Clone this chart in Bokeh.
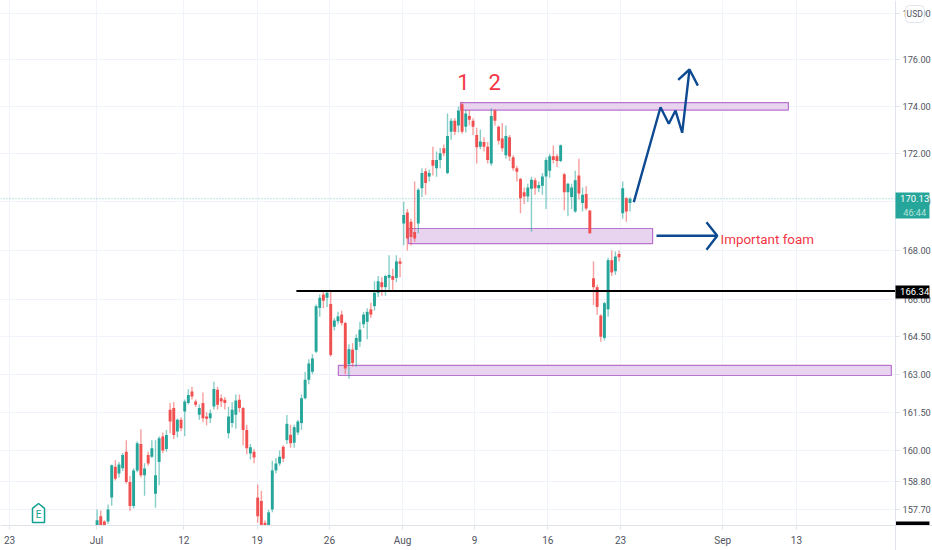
from bokeh.plotting import figure
from bokeh.embed import file_html
from bokeh.resources import INLINE
from bokeh.models import (Range1d, FixedTicker, PrintfTickFormatter, Label, BoxAnnotation)

# ---- candles ------------------------------------------------------------
first_bar = 24
opens = [157.05,157.45,157.25,157.25,158.17,159.36,159.1,159.3,159.95,158.77,157.84,159.22,160.25,159.03,159.82,159.75,158.32,159.55,160.54,160.05,
 161.59,161.66,160.74,161.2,161.53,161.86,162.32,161.92,161.4,161.86,161.33,161.26,161.72,162.38,162.05,161.99,160.67,161.07,161.4,161.99,
 161.66,160.8,159.88,159.95,158.17,158.04,157.2,157.05,157.71,159.22,159.49,160.14,160.4,160.61,160.3,160.7,161.07,162.05,162.78,163.1,
 163.9,165.66,166.2,166.07,165.82,164.9,165.12,165.39,165.05,163.4,163.98,163.97,164.3,165.0,165.1,165.6,165.73,166.27,166.7,166.5,
 166.88,166.95,166.88,167.55,169.11,169.56,169.18,168.76,169.11,170.57,171.27,171.06,171.75,171.4,171.75,172.24,171.2,172.93,173.4,173.2,
 174.1,173.14,173.6,173.4,172.8,172.3,172.5,172.3,171.6,173.83,173.14,172.65,171.95,172.7,171.86,171.4,170.95,170.4,170.22,170.55,
 170.9,170.57,170.67,171.06,171.3,171.9,171.9,171.7,171.15,170.4,170.2,169.6,171.1,169.95,170.33,169.64,166.86,166.5,165.35,164.45,
 165.6,167.6,167.15,167.85,169.53,170.15,169.95]
highs = [157.71,157.67,157.3,157.9,159.45,159.62,159.55,159.9,160.4,159.0,159.3,160.35,160.83,159.5,159.95,160.4,160.4,160.55,160.7,160.8,
 161.86,161.9,161.25,161.3,162.0,162.4,162.5,162.0,161.8,162.28,161.5,161.6,162.7,162.5,162.2,162.1,161.7,161.9,162.2,162.2,
 161.7,161.0,160.25,160.05,158.67,158.43,157.3,157.7,159.6,159.7,160.0,160.2,161.39,161.0,161.0,161.2,162.2,163.1,163.6,163.8,
 165.8,166.2,166.35,166.35,166.33,165.25,165.5,165.55,165.1,164.2,164.24,164.6,165.1,165.5,165.65,165.87,166.74,166.95,166.9,167.0,
 167.8,167.25,167.8,167.7,170.01,169.7,169.3,170.85,170.57,171.4,171.4,171.35,172.3,172.1,172.25,172.4,173.7,173.5,173.5,174.0,
 174.2,173.85,173.85,173.5,173.1,173.03,172.7,172.5,173.93,173.9,173.2,173.3,173.2,172.8,171.95,171.5,171.0,170.6,170.75,171.05,
 171.0,170.85,171.2,171.85,172.0,172.35,172.0,172.4,171.2,170.8,170.75,171.3,171.8,170.6,170.65,169.65,167.55,166.6,165.4,165.9,
 167.7,168.0,167.95,168.0,170.85,170.2,170.2]
lows = [156.9,156.8,156.9,157.15,157.85,158.83,158.95,159.2,158.7,157.65,157.75,159.15,158.95,158.24,159.4,159.7,157.78,158.65,159.9,159.95,
 160.67,160.45,160.5,160.75,160.55,161.8,162.0,161.7,161.2,161.1,160.98,161.07,161.6,161.6,161.7,161.6,160.47,160.9,160.85,161.5,
 160.2,159.85,159.65,159.5,157.2,156.7,156.7,156.8,157.6,159.1,159.4,159.55,160.25,160.1,160.1,160.6,160.8,162.0,162.6,163.0,
 163.85,165.3,165.65,165.7,163.7,164.75,165.0,164.95,163.0,162.82,163.3,163.3,164.1,164.85,164.4,165.25,165.55,166.1,166.15,166.15,
 166.3,166.3,166.7,166.9,168.21,168.0,168.2,168.35,168.7,170.2,170.3,170.85,171.1,171.05,171.4,171.9,171.15,172.6,172.8,172.9,
 172.85,172.9,173.2,172.8,171.6,172.2,172.1,171.6,171.5,173.2,172.4,172.1,171.8,171.7,171.3,170.85,169.53,169.9,170.0,168.77,
 170.3,170.4,170.3,169.7,171.0,171.6,171.45,171.65,169.65,169.4,169.7,169.55,170.1,169.6,169.65,168.68,165.78,165.38,164.3,164.35,
 165.3,166.95,167.0,167.55,169.3,169.18,169.6]
closes = [157.3,156.95,157.0,157.71,159.42,158.9,159.45,159.82,158.77,157.84,159.22,160.28,159.03,159.29,159.49,160.08,159.03,160.47,160.0,160.6,
 161.13,160.6,161.2,160.87,161.92,162.18,162.12,161.79,161.66,161.26,161.24,161.46,162.41,161.79,161.92,161.86,161.33,161.59,161.96,161.66,
 160.8,160.08,160.12,159.72,157.45,156.9,156.9,157.6,159.22,159.49,159.75,159.68,161.04,160.28,160.91,161.13,162.05,162.78,163.43,163.63,
 165.73,166.07,165.95,166.27,163.77,165.15,165.32,165.05,163.23,164.0,163.45,164.45,164.78,165.39,165.5,165.39,166.27,166.74,166.5,166.95,
 167.0,166.8,167.55,167.45,169.46,168.49,168.55,168.49,170.5,171.2,170.78,171.2,171.5,171.75,172.03,172.03,172.75,173.4,172.93,173.83,
 172.93,173.7,173.44,173.14,172.28,172.52,172.3,171.75,173.6,173.4,172.55,172.24,172.75,171.89,171.4,171.25,170.15,170.22,170.6,170.92,
 170.57,170.7,171.06,171.75,171.9,171.75,171.7,172.37,170.4,170.75,170.6,170.9,170.35,170.3,169.73,168.7,166.5,165.7,164.5,165.85,
 167.6,167.1,167.75,167.72,170.57,169.6,170.13]

# ---- axes ---------------------------------------------------------------
price_ticks = [157.7, 158.8, 160.0, 161.5, 163.0, 164.5, 166.0, 168.0, 170.0, 172.0, 174.0, 176.0, 178.0]
time_tick_bars = [0, 23.84, 47.75, 67.87, 87.67, 107.7, 127.4, 147.48, 167.4, 195.4, 215.6]
time_tick_labels = ["23", "Jul", "12", "19", "26", "Aug", "9", "16", "23", "Sep", "13"]
view_bars = (-2.466, 252.88)
view_prices = (156.14, 178.56)
scale_bar = 242.74       # where the price scale sits
scale_price = 157.1      # where the time scale sits

# ---- drawings -----------------------------------------------------------
last_price = 170.13
countdown = "46:44"
line_price = 166.34
line_start_bar = 78.6
zones_left = [123.56, 109.3, 90.1]
zones_right = [213.4, 176.2, 241.6]
zones_top = [174.17, 168.90, 163.35]
zones_bottom = [173.85, 168.28, 162.95]
path_bars = [171.04, 178.36, 180.63, 182.47, 184.3, 186.3]
path_prices = [169.99, 173.97, 173.27, 173.83, 172.89, 175.58]
head_bars = [183.2, 186.3, 188.6]
head_prices = [175.14, 175.58, 174.89]
arrow_bars = [177.26, 193.9]
arrow_prices = [168.6, 168.6]
arrow_head_bars = [190.96, 193.9, 190.96]
arrow_head_prices = [169.16, 168.6, 168.03]
flag_bars = [6.3, 9.6, 9.6, 7.95, 6.3]
flag_prices = [157.21, 157.21, 157.75, 157.94, 157.75]

TEAL, RED, BLUE, PINK = "#26a69a", "#f0504f", "#0e4a92", "#f23645"
FONT = "Roboto"
TXT = "#50535e"

p = figure(width=932, height=550, output_backend="svg", toolbar_location=None,
           y_axis_type="log", y_axis_location="right",
           x_range=Range1d(*view_bars), y_range=Range1d(*view_prices),
           min_border_left=0, min_border_top=0, min_border_right=0, min_border_bottom=0,
           background_fill_color="white", border_fill_color="white",
           styles={"position": "absolute", "left": "0px", "top": "0px"})
p.outline_line_color = None

p.yaxis.fixed_location = scale_bar
p.xaxis.fixed_location = scale_price
p.yaxis.ticker = FixedTicker(ticks=price_ticks)
p.yaxis.formatter = PrintfTickFormatter(format="%.2f")
p.xaxis.ticker = FixedTicker(ticks=time_tick_bars)
p.xaxis.major_label_overrides = dict(zip(time_tick_bars, time_tick_labels))
for ax in (p.xaxis, p.yaxis):
    ax.axis_line_color = "#e0e3eb"
    ax.major_tick_line_color = "#e0e3eb"
    ax.major_tick_out = 4
    ax.major_tick_in = 0
    ax.minor_tick_line_color = None
    ax.major_label_text_color = TXT
    ax.major_label_text_font = FONT
    ax.major_label_text_font_size = "9.2px"
    ax.major_label_standoff = 3
p.xaxis.major_label_text_font_size = "10px"
p.xaxis.major_label_standoff = 6
p.xgrid.ticker = FixedTicker(ticks=time_tick_bars)
p.ygrid.ticker = FixedTicker(ticks=price_ticks)
p.grid.grid_line_color = "#f0f3fa"
p.grid.grid_line_width = 1

# zones under the candles
for l, r, t, b in zip(zones_left, zones_right, zones_top, zones_bottom):
    p.quad(left=l, right=r, top=t, bottom=b, fill_color="#e8d4ef", line_color="#b872cf", line_width=1.2)

# last price line
p.line([view_bars[0], scale_bar], [last_price, last_price], line_color=TEAL, line_alpha=0.6,
       line_dash=[1, 2], line_width=1)

# candles
idx = list(range(first_bar, first_bar + len(opens)))
cols = [TEAL if c >= o else RED for o, c in zip(opens, closes)]
p.segment(idx, highs, idx, lows, line_color=cols, line_alpha=0.55, line_width=1.4)
p.vbar(x=idx, top=[max(o, c) for o, c in zip(opens, closes)],
       bottom=[min(o, c) for o, c in zip(opens, closes)], width=0.8,
       fill_color=cols, line_color=None)

# the scales stay clear of the chart
p.quad(left=scale_bar, right=view_bars[1], top=view_prices[1], bottom=view_prices[0],
       fill_color="white", line_color=None)
p.quad(left=view_bars[0], right=view_bars[1], top=scale_price, bottom=view_prices[0],
       fill_color="white", line_color=None)

# drawings
p.line([line_start_bar, scale_bar], [line_price, line_price], line_color="#000000", line_width=2)
p.line(path_bars, path_prices, line_color=BLUE, line_width=2.4)
p.line(head_bars, head_prices, line_color=BLUE, line_width=2.4)
p.line(arrow_bars, arrow_prices, line_color=BLUE, line_width=2.4)
p.line(arrow_head_bars, arrow_head_prices, line_color=BLUE, line_width=2.4)
p.patch(flag_bars, flag_prices, fill_color="white", line_color="#14a090", line_width=1.5)
p.quad(left=scale_bar, right=252.05, top=157.25, bottom=157.11, fill_color="#000000", line_color=None)

def lab(x, y, text, color=TXT, size="10px", align="center"):
    p.add_layout(Label(x=x, y=y, text=text, text_color=color, text_font_size=size, text_font=FONT,
                       text_align=align, text_baseline="middle"))

def box(l, r, t, b, fill, line=None, rad=0):
    p.add_layout(BoxAnnotation(left=l, right=r, top=t, bottom=b, fill_color=fill, fill_alpha=1,
                               line_color=line, line_alpha=1 if line else 0, border_radius=rad, level="annotation"))

lab(7.95, 157.5, "E", "#14a090", "10px")
lab(124.4, 175.06, "1", PINK, "22px")
lab(132.9, 175.06, "2", PINK, "22px")
lab(194.8, 168.45, "Important foam", PINK, "13.4px", "left")

# price-scale boxes
box(scale_bar, 252.05, 170.39, 169.31, TEAL)
lab(248.0, last_price, f"{last_price:.2f}", "white", "9.5px")
lab(248.0, 169.56, countdown, "#b5e3dd", "9.2px")
box(scale_bar, 252.05, 166.57, 166.04, "#000000")
lab(248.0, line_price, f"{line_price:.2f}", "white", "9.5px")
box(245.5, 250.6, 178.34, 177.6, "white", "#e0e3eb", 4)
lab(248.0, 177.97, "USD", TXT, "8.5px")

open("out.html", "w").write(file_html(p, INLINE))
